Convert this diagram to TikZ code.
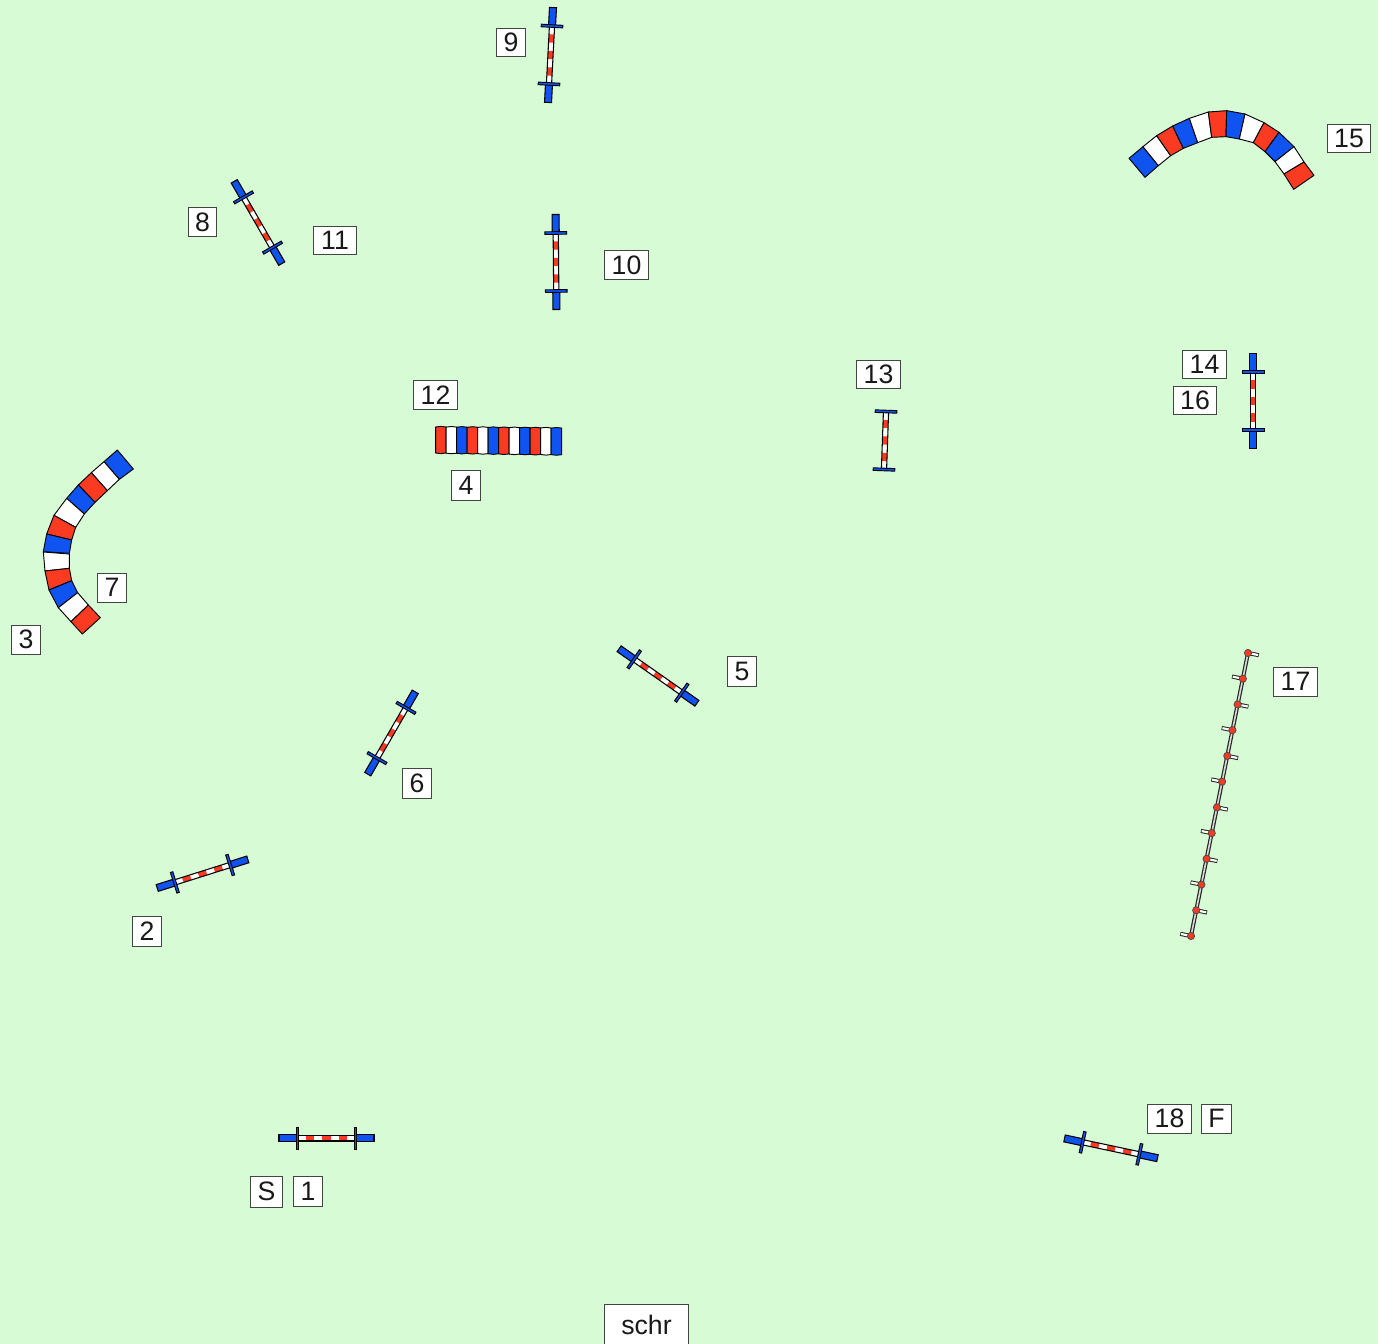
\documentclass[tikz,border=0pt]{standalone}
\usepackage{fontspec}
\setmainfont{Liberation Sans}
\definecolor{bg}{HTML}{D7FBD5}
\definecolor{jblue}{HTML}{0F54F0}
\definecolor{jred}{HTML}{FB3A22}
\definecolor{lab}{HTML}{444444}
\tikzset{
  labelbox/.style={draw=lab,line width=0.75pt,fill=white,inner sep=0pt,font=\fontsize{20}{20}\selectfont,text=black!90},
  seg/.style={draw=black,line width=0.7pt,line join=round},
  polebar/.style={draw=black,line width=0.8pt},
  wing/.style={draw=black,line width=0.7pt,fill=jblue},
}
% label: name, left, top, right, bottom, text
\newcommand{\lab}[6]{\node[labelbox,minimum width={(#4-#2-0.6)*0.75pt},minimum height={(#5-#3-0.4)*0.75pt}] (#1) at ({(#2+#4)/2},{(#3+#5)/2+0.2}) {#6};}
% pole between the wings, seven stripes
\newcommand{\stripes}{%
  \fill[white] (-29,-2.6) rectangle (29,2.6);
  \foreach \a/\b in {-20.7/-12.4,-4.1/4.1,12.4/20.7}{\fill[jred] (\a,-2.6) rectangle (\b,2.6);}
  \draw[polebar] (-29,-2.6) -- (29,-2.6) (-29,2.6) -- (29,2.6);
}
% jump: x, y, angle (clockwise on the page)
\newcommand{\jump}[3]{\begin{scope}[shift={(#1,#2)},rotate=-#3]
  \stripes
  \draw[polebar,fill=jblue] (-47.5,-3.5) rectangle (-29,3.5);
  \draw[polebar,fill=jblue] (29,-3.5) rectangle (47.5,3.5);
  \draw[wing] (-30.3,-10.8) rectangle (-27.7,10.8);
  \draw[wing] (27.7,-10.8) rectangle (30.3,10.8);
\end{scope}}
% jump without end pieces
\newcommand{\shortjump}[3]{\begin{scope}[shift={(#1,#2)},rotate=-#3]
  \stripes
  \draw[wing] (-30.3,-10.8) rectangle (-27.7,10.8);
  \draw[wing] (27.7,-10.8) rectangle (30.3,10.8);
\end{scope}}
% tunnel segment: colour and four corners in zoomed coordinates
\newcommand{\tseg}[5]{\draw[seg,fill=#1] (#2) -- (#3) -- (#4) -- (#5) -- cycle;}
\begin{document}
\begin{tikzpicture}[x=0.75pt,y=-0.75pt]
\useasboundingbox (0,0) rectangle (1378,1344);
\clip (0,0) rectangle (1378,1344);
\fill[bg] (0,0) rectangle (1378,1344);

% jumps
\jump{326.5}{1138.4}{0}
\jump{1111}{1148.3}{12}
\jump{202.5}{873.7}{-17.5}
\jump{391.5}{733}{-60}
\jump{658}{676}{35}
\jump{258}{222.5}{60}
\jump{550.5}{55}{-87}
\jump{556}{262}{-90.5}
\jump{1253.3}{401}{-90}
\shortjump{885}{440.5}{-88}

% tunnel 15
\begin{scope}[shift={(1120,100)},x=0.25pt,y=-0.25pt]
\tseg{jblue}{27,175}{69,140}{115,197}{75,232}
\tseg{white}{69,140}{110,107}{152,167}{115,197}
\tseg{jred}{110,107}{158,78}{190,145}{152,167}
\tseg{jblue}{158,78}{208,55}{233,128}{190,145}
\tseg{white}{208,55}{265,36}{275,112}{233,128}
\tseg{jred}{265,36}{320,32}{318,110}{275,112}
\tseg{jblue}{320,32}{375,42}{358,117}{318,110}
\tseg{white}{375,42}{432,68}{400,128}{358,117}
\tseg{jred}{432,68}{477,97}{435,155}{400,128}
\tseg{jblue}{477,97}{522,140}{465,185}{435,155}
\tseg{white}{522,140}{552,186}{492,222}{465,185}
\tseg{jred}{552,186}{582,226}{521,268}{492,222}
\end{scope}

% tunnel 7
\begin{scope}[shift={(30,440)},x=0.25pt,y=-0.25pt]
\tseg{jblue}{262,30}{310,87}{268,118}{222,65}
\tseg{white}{222,65}{268,118}{232,152}{184,98}
\tseg{jred}{184,98}{232,152}{195,187}{145,135}
\tseg{jblue}{145,135}{195,187}{163,222}{110,175}
\tseg{white}{110,175}{163,222}{137,262}{72,226}
\tseg{jred}{72,226}{137,262}{125,300}{50,282}
\tseg{jblue}{50,282}{125,300}{118,340}{40,335}
\tseg{white}{40,336}{118,342}{118,385}{45,393}
\tseg{jred}{45,393}{118,385}{125,422}{57,450}
\tseg{jblue}{57,450}{125,422}{143,458}{85,503}
\tseg{white}{85,503}{143,458}{175,495}{123,545}
\tseg{jred}{123,545}{175,495}{211,533}{157,582}
\end{scope}

% tunnel 4
\foreach \c [count=\i from 0] in {jred,white,jblue,jred,white,jblue,jred,white,jblue,jred,white,jblue}{
  \pgfmathsetmacro{\xa}{435.7+10.5*\i}
  \pgfmathsetmacro{\xb}{\xa+10.5}
  \pgfmathsetmacro{\xm}{\xa+5.25}
  \pgfmathsetmacro{\ya}{427+0.1*\i}
  \pgfmathsetmacro{\yb}{453+0.15*\i}
  \draw[seg,fill=\c] (\xa,\ya) -- (\xm,\ya-0.6) -- (\xb,\ya) -- (\xb,\yb) -- (\xm,\yb+0.6) -- (\xa,\yb) -- cycle;
}

% weave poles 17
\draw[draw=black!85,line width=3pt] (1248,653) -- (1191,936);
\draw[draw=white!85!black,line width=1.2pt] (1248,653) -- (1191,936);
\foreach \i in {0,...,11}{
  \pgfmathsetmacro{\px}{1248-5.18*\i}
  \pgfmathsetmacro{\py}{653+25.73*\i}
  \pgfmathsetmacro{\sgn}{ifthenelse(mod(\i,2)==0,1,-1)}
  \draw[draw=black!85,line width=3.1pt] (\px,\py) -- (\px+10.8*\sgn,\py+2.2*\sgn);
  \draw[draw=white,line width=1.6pt] (\px+1*\sgn,\py+0.2*\sgn) -- (\px+10.1*\sgn,\py+2.05*\sgn);
}
\foreach \i in {0,...,11}{
  \pgfmathsetmacro{\px}{1248-5.18*\i}
  \pgfmathsetmacro{\py}{653+25.73*\i}
  \draw[draw=black!70,line width=0.6pt,fill=jred] (\px,\py) circle[radius=3.6];
}

% labels
\lab{l9}{496}{28}{526}{57}{9}
\lab{l15}{1327}{124}{1371}{153}{15}
\lab{l8}{188}{207}{217}{237}{8}
\lab{l11}{313}{226}{357}{255}{11}
\lab{l10}{604}{250}{649}{280}{10}
\lab{l14}{1182}{350}{1227}{379}{14}
\lab{l16}{1173}{386}{1217}{415}{16}
\lab{l13}{856}{360}{901}{389}{13}
\lab{l12}{413}{380}{458}{410}{12}
\lab{l4}{451}{470}{481}{500}{4}
\lab{l7}{97}{573}{127}{602}{7}
\lab{l3}{11}{625}{41}{654}{3}
\lab{l17}{1273}{667}{1318}{696}{17}
\lab{l5}{727}{656}{757}{686}{5}
\lab{l6}{402}{768}{432}{798}{6}
\lab{l2}{132}{916}{162}{946}{2}
\lab{lS}{250}{1176}{283}{1207}{S}
\lab{l1}{293}{1176}{323}{1206}{1}
\lab{l18}{1147}{1104}{1192}{1133}{18}
\lab{lF}{1201}{1104}{1232}{1133}{F}
\lab{lschr}{604}{1304}{689}{1348}{\raisebox{2.6pt}{schr}}
\end{tikzpicture}
\end{document}
